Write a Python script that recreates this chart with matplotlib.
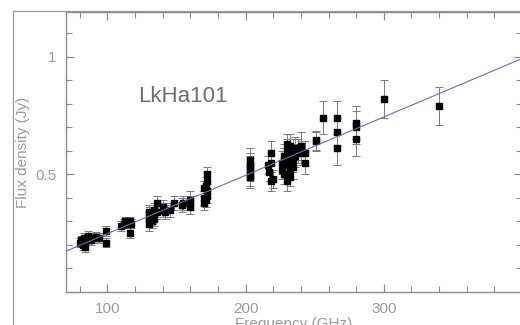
import matplotlib
matplotlib.use("Agg")
import matplotlib.pyplot as plt
from matplotlib.lines import Line2D
from matplotlib.ticker import MultipleLocator, FixedLocator
import numpy as np

plt.rcParams['font.family'] = ['Liberation Sans', 'DejaVu Sans']

# Frequencies (GHz), flux densities (Jy) and errors (Jy)
freq = [80, 81, 82, 83, 84, 85, 86, 87, 88, 90, 92, 94, 99, 99,
        110, 112, 113, 115, 116, 117, 116,
        130, 130, 130, 130, 132, 132, 134, 134, 134, 136, 136,
        140, 140, 142, 145, 148,
        154, 155, 160, 160, 160,
        170, 170, 170, 171, 171, 172, 172, 172, 172,
        203, 203, 203, 203, 203, 203,
        216, 217, 218, 218, 218, 220,
        226, 226, 228, 228, 228, 230, 230, 230, 230, 232, 232, 232, 232,
        234, 234, 234, 236, 236, 238, 240, 240, 243, 243,
        251, 251, 256, 266, 266, 266, 280, 280, 280, 300, 340]
flux = [0.21, 0.22, 0.20, 0.23, 0.19, 0.22, 0.24, 0.23, 0.22, 0.23, 0.235, 0.23, 0.26, 0.21,
        0.28, 0.29, 0.30, 0.29, 0.30, 0.29, 0.25,
        0.29, 0.31, 0.33, 0.34, 0.30, 0.32, 0.35, 0.33, 0.31, 0.38, 0.34,
        0.35, 0.36, 0.34, 0.35, 0.38,
        0.37, 0.38, 0.39, 0.38, 0.36,
        0.44, 0.40, 0.38, 0.45, 0.39, 0.50, 0.47, 0.43, 0.41,
        0.56, 0.54, 0.52, 0.50, 0.49, 0.53,
        0.54, 0.51, 0.59, 0.55, 0.47, 0.48,
        0.55, 0.52, 0.58, 0.50, 0.56, 0.60, 0.54, 0.47, 0.63, 0.62, 0.52, 0.57, 0.49,
        0.60, 0.56, 0.53, 0.61, 0.58, 0.60, 0.62, 0.59, 0.59, 0.55,
        0.645, 0.64, 0.74, 0.74, 0.68, 0.61, 0.72, 0.70, 0.65, 0.82, 0.79]
err = [0.02, 0.02, 0.02, 0.02, 0.02, 0.02, 0.02, 0.02, 0.02, 0.02, 0.02, 0.02, 0.02, 0.02,
       0.02, 0.02, 0.02, 0.02, 0.02, 0.02, 0.02,
       0.03, 0.03, 0.03, 0.03, 0.03, 0.03, 0.03, 0.03, 0.03, 0.03, 0.03,
       0.03, 0.03, 0.03, 0.03, 0.03,
       0.03, 0.03, 0.04, 0.03, 0.03,
       0.03, 0.03, 0.03, 0.04, 0.03, 0.03, 0.04, 0.03, 0.03,
       0.05, 0.05, 0.05, 0.05, 0.05, 0.05,
       0.04, 0.04, 0.05, 0.04, 0.04, 0.04,
       0.05, 0.04, 0.05, 0.04, 0.05, 0.05, 0.04, 0.04, 0.04, 0.05, 0.04, 0.05, 0.04,
       0.05, 0.05, 0.05, 0.05, 0.05, 0.05, 0.06, 0.05, 0.05, 0.05,
       0.04, 0.04, 0.07, 0.07, 0.06, 0.07, 0.07, 0.07, 0.07, 0.08, 0.08]

# Power-law fit S = S100 * (nu/100)^alpha
fit_s100 = 0.248
fit_alpha = 1.0

source_name = "LkHa101"
xlabel = "Frequency (GHz)"
ylabel = "Flux density (Jy)"
xticks_major = [100, 200, 300]
yticks_major = [0.5, 1.0]

fig = plt.figure(figsize=(5.2, 3.25), dpi=100)
ax = fig.add_axes([66/520, 1-292/325, (522-66)/520, (292-12)/325])

grey = '#8c8c8c'
ax.errorbar(freq, flux, yerr=err, fmt='none', ecolor='#7a7a7a', elinewidth=0.7,
            capsize=3, capthick=0.7, zorder=2)
ax.plot(freq, flux, 's', color='black', markersize=4.6, zorder=3)

nu = np.linspace(70, 400, 100)
ax.plot(nu, fit_s100 * (nu/100.0)**fit_alpha, color='#6c6cb8', lw=0.8, zorder=4)

ax.set_xlim(70, 400)
ax.set_ylim(0, 1.19)
ax.xaxis.set_major_locator(FixedLocator(xticks_major))
ax.xaxis.set_minor_locator(MultipleLocator(20))
ax.yaxis.set_major_locator(FixedLocator(yticks_major))
ax.yaxis.set_minor_locator(MultipleLocator(0.1))
ax.yaxis.set_major_formatter(matplotlib.ticker.FuncFormatter(lambda v, p: f"{v:g}"))
ax.tick_params(which='both', direction='in', top=True, right=True, color=grey,
               labelcolor='#9a9a9a', labelsize=11)
ax.tick_params(which='major', length=6, width=0.9, pad=7)
ax.tick_params(which='minor', length=4, width=0.8)
for s in ax.spines.values():
    s.set_color(grey)
    s.set_linewidth(1.0)

ax.set_xlabel(xlabel, color='#9a9a9a', fontsize=11, labelpad=1)
ax.set_ylabel(ylabel, color='#9a9a9a', fontsize=11, labelpad=4)

ax.text(122, 0.807, source_name, fontsize=16, color='#6e6e6e', ha='left', va='baseline')

# outer frame of the original figure
fig.add_artist(Line2D([13/520, 13/520], [0, 1-11/325], color='#9a9a9a', lw=0.9))
fig.add_artist(Line2D([13/520, 1], [1-11/325, 1-11/325], color='#9a9a9a', lw=0.9))

fig.savefig("out.png", dpi=100)
